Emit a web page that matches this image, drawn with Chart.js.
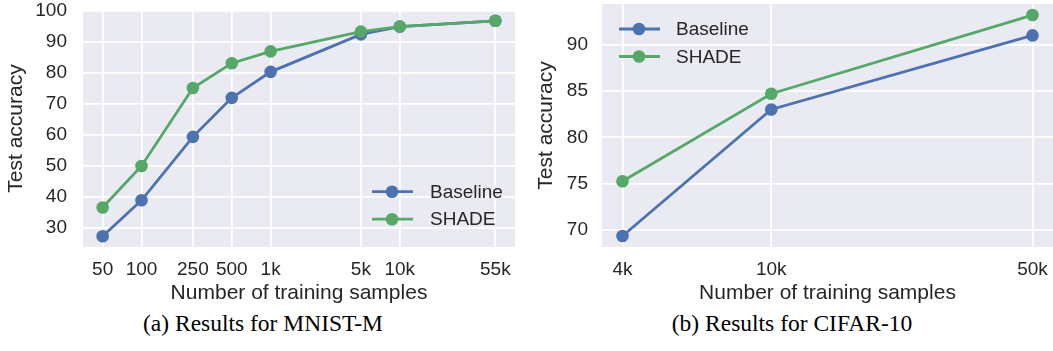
<!DOCTYPE html>
<html>
<head>
<meta charset="utf-8">
<script src="https://cdn.jsdelivr.net/npm/chart.js@4"></script>
<style>
  body { margin: 0; background: #fff; width: 1053px; height: 351px; position: relative; overflow: hidden; }
  .box { position: absolute; top: 0; height: 310px; }
  .cap { position: absolute; top: 312px; font: 23.5px "Liberation Serif", "Times New Roman", serif; line-height: 23px; color: #000; white-space: nowrap; transform: translateX(-50%); }
</style>
</head>
<body>
<div class="box" style="left:0;width:530px"><canvas id="mnist"></canvas></div>
<div class="box" style="left:530px;width:523px"><canvas id="cifar"></canvas></div>
<div class="cap" style="left:263px">(a) Results for MNIST-M</div>
<div class="cap" style="left:792px">(b) Results for CIFAR-10</div>
<script>
const seriesNames = ['Baseline', 'SHADE'];

// (a) MNIST-M
const mnistX = [50, 100, 250, 500, 1000, 5000, 10000, 55000];
const mnistXLabels = ['50', '100', '250', '500', '1k', '5k', '10k', '55k'];
const mnistBaseline = [27.3, 38.9, 59.4, 72.0, 80.4, 92.5, 95.0, 96.9];
const mnistShade = [36.6, 50.0, 75.2, 83.2, 87.0, 93.4, 95.0, 96.9];
const mnistYTicks = [30, 40, 50, 60, 70, 80, 90, 100];

// (b) CIFAR-10
const cifarX = [4000, 10000, 50000];
const cifarXLabels = ['4k', '10k', '50k'];
const cifarBaseline = [69.35, 83.0, 91.0];
const cifarShade = [75.25, 84.7, 93.2];
const cifarYTicks = [70, 75, 80, 85, 90];

const blue = '#4C72B0';
const green = '#55A868';
const textColor = '#262626';
const sans = '"Liberation Sans", Arial, sans-serif';

// matplotlib-style 5% margins
function logRange(xs) {
    const lo = Math.log10(Math.min(...xs)), hi = Math.log10(Math.max(...xs));
    const m = (hi - lo) * 0.05;
    return [Math.pow(10, lo - m), Math.pow(10, hi + m)];
}
function linRange(vals) {
    const lo = Math.min(...vals), hi = Math.max(...vals);
    const m = (hi - lo) * 0.05;
    return [lo - m, hi + m];
}

const plotBg = {
    id: 'plotBg',
    beforeDraw(chart) {
        const a = chart.chartArea, ctx = chart.ctx;
        ctx.save();
        ctx.fillStyle = '#EAEAF2';
        ctx.fillRect(a.left, a.top, a.right - a.left, a.bottom - a.top);
        ctx.restore();
    }
};

// legend drawn inside the plot, no frame
const innerLegend = {
    id: 'innerLegend',
    afterDraw(chart, args, opts) {
        const a = chart.chartArea, ctx = chart.ctx;
        const x = opts.fromRight ? a.right + opts.dx : a.left + opts.dx;
        let y = opts.fromBottom ? a.bottom + opts.dy : a.top + opts.dy;
        ctx.save();
        chart.data.datasets.forEach(ds => {
            ctx.strokeStyle = ds.borderColor;
            ctx.lineWidth = 2.8;
            ctx.beginPath();
            ctx.moveTo(x - 20, y);
            ctx.lineTo(x + 21, y);
            ctx.stroke();
            ctx.fillStyle = ds.borderColor;
            ctx.beginPath();
            ctx.arc(x, y, 6.3, 0, Math.PI * 2);
            ctx.fill();
            ctx.fillStyle = textColor;
            ctx.font = '19px ' + sans;
            ctx.textBaseline = 'middle';
            ctx.fillText(ds.label, x + opts.textGap, y + 1);
            y += 27.5;
        });
        ctx.restore();
    }
};

function makeChart(id, xs, xLabels, base, shade, yTicks, cfg) {
    const [xMin, xMax] = logRange(xs);
    const [yMin, yMax] = linRange(base.concat(shade));
    const line = (label, vals, color, order) => ({
        label: label,
        data: xs.map((x, i) => ({ x: x, y: vals[i] })),
        borderColor: color,
        backgroundColor: color,
        borderWidth: 2.8,
        pointRadius: 6.3,
        pointHoverRadius: 6.3,
        pointBorderWidth: 0,
        tension: 0,
        order: order,
        clip: false
    });
    return new Chart(document.getElementById(id), {
        type: 'line',
        data: {
            datasets: [
                line(seriesNames[0], base, blue, 1),
                line(seriesNames[1], shade, green, 0)
            ]
        },
        options: {
            responsive: true,
            maintainAspectRatio: false,
            animation: false,
            events: [],
            layout: { padding: cfg.padding, autoPadding: false },
            plugins: {
                legend: { display: false },
                tooltip: { enabled: false },
                innerLegend: cfg.legend
            },
            scales: {
                x: {
                    type: 'logarithmic',
                    min: xMin,
                    max: xMax,
                    bounds: 'data',
                    afterBuildTicks: s => { s.ticks = xs.map(v => ({ value: v })); },
                    afterFit: s => { s.height = 63; s.paddingLeft = 0; s.paddingRight = 0; },
                    ticks: {
                        callback: (v, i) => xLabels[i],
                        color: textColor,
                        font: { family: sans, size: 19 },
                        padding: 11,
                        maxRotation: 0,
                        autoSkip: false
                    },
                    grid: { color: '#ffffff', lineWidth: 1.8, drawTicks: false },
                    border: { display: false },
                    title: {
                        display: true,
                        text: 'Number of training samples',
                        color: textColor,
                        font: { family: sans, size: 21 },
                        padding: { top: 0, bottom: 4 }
                    }
                },
                y: {
                    min: yMin,
                    max: yMax,
                    afterBuildTicks: s => { s.ticks = yTicks.map(v => ({ value: v })); },
                    afterFit: s => { s.width = cfg.yWidth; s.paddingTop = 0; s.paddingBottom = 0; },
                    ticks: {
                        color: textColor,
                        font: { family: sans, size: 19 },
                        padding: cfg.yPad
                    },
                    grid: { color: '#ffffff', lineWidth: 1.8, drawTicks: false },
                    border: { display: false },
                    title: {
                        display: true,
                        text: 'Test accuracy',
                        color: textColor,
                        font: { family: sans, size: 21 },
                        padding: { top: 4, bottom: 0 }
                    }
                }
            }
        },
        plugins: [plotBg, innerLegend]
    });
}

makeChart('mnist', mnistX, mnistXLabels, mnistBaseline, mnistShade, mnistYTicks, {
    padding: { left: 0, right: 15, top: 10, bottom: 0 },
    yWidth: 83,
    yPad: 16,
    legend: { fromRight: true, dx: -123, fromBottom: true, dy: -55.3, textGap: 38 }
});

makeChart('cifar', cifarX, cifarXLabels, cifarBaseline, cifarShade, cifarYTicks, {
    padding: { left: 0, right: 0, top: 4, bottom: 0 },
    yWidth: 72,
    yPad: 14,
    legend: { fromRight: false, dx: 37, fromBottom: false, dy: 25, textGap: 37 }
});
</script>
</body>
</html>
